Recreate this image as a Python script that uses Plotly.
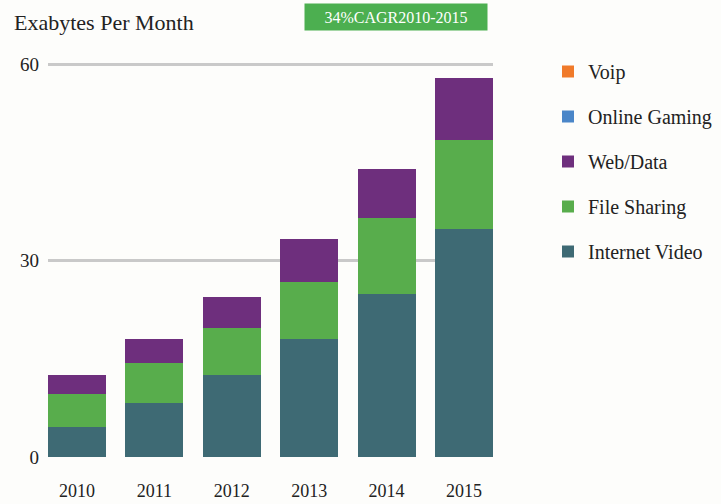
import plotly.graph_objects as go

years = ["2010", "2011", "2012", "2013", "2014", "2015"]
internet_video = [4.6, 8.3, 12.5, 18.1, 25.0, 34.9]
file_sharing = [5.1, 6.0, 7.3, 8.7, 11.6, 13.6]
web_data = [2.8, 3.7, 4.7, 6.5, 7.4, 9.5]
online_gaming = [0, 0, 0, 0, 0, 0]
voip = [0, 0, 0, 0, 0, 0]
share_2015 = ["61%", "24%", "15%"]
y_ticks = [0, 30, 60]

FONT = "Liberation Serif"
TXT = "#222222"

series = [
    ("Internet Video", internet_video, "#3e6a74"),
    ("File Sharing", file_sharing, "#58ad4c"),
    ("Web/Data", web_data, "#6e2f7d"),
    ("Online Gaming", online_gaming, "#4a86c8"),
    ("Voip", voip, "#f07a2a"),
]

fig = go.Figure()
n = len(series)
for i, (name, vals, col) in enumerate(series):
    fig.add_trace(go.Bar(
        x=years, y=vals, name=name, marker=dict(color=col, line=dict(width=0)),
        legendgroup=name, legendrank=n - i, hoverinfo="skip",
    ))

# percent labels at the midpoint of each 2015 segment
base = 0
shifts = [-12, 0, 0]
for i, (name, vals, col) in enumerate(series[:3]):
    mid = base + vals[-1] / 2
    base += vals[-1]
    fig.add_annotation(x=years[-1], y=mid, text=share_2015[i], showarrow=False,
                       xanchor="left", xshift=38, yshift=shifts[i],
                       font=dict(family=FONT, size=16, color=TXT))

# plot area: x 48..493, y 62..457
fig.add_annotation(xref="paper", yref="paper", x=(396 - 48) / 445, y=(457 - 17) / 395,
                   xanchor="center", yanchor="middle",
                   text="34%CAGR2010-2015", showarrow=False,
                   bgcolor="#4caf50", width=180, height=24,
                   font=dict(family=FONT, size=16, color="white"))

fig.update_layout(
    width=721, height=504,
    barmode="stack", bargap=0.25,
    paper_bgcolor="#fdfdfb", plot_bgcolor="#fdfdfb",
    margin=dict(l=48, r=228, t=62, b=47, autoexpand=False),
    font=dict(family=FONT, color=TXT),
    title=dict(text="Exabytes Per Month", x=14 / 721, xanchor="left",
               xref="container", yref="container", y=1 - 22 / 504, yanchor="middle",
               font=dict(family=FONT, size=22, color=TXT)),
    showlegend=True,
    legend=dict(traceorder="grouped", tracegroupgap=16,
                xref="container", yref="container",
                x=548 / 721, xanchor="left", y=1 - 52 / 504, yanchor="top",
                font=dict(family=FONT, size=20, color=TXT),
                bgcolor="rgba(0,0,0,0)"),
    xaxis=dict(range=[-0.375, 5.375], showgrid=False, showline=False, ticks="",
               automargin=False,
               ticklabelstandoff=21, tickfont=dict(family=FONT, size=18, color=TXT)),
    yaxis=dict(range=[0, 60.4], tickvals=y_ticks, showgrid=True, gridcolor="#c9c9c9",
               gridwidth=3, zeroline=False, showline=False, ticks="", automargin=False,
               ticklabelstandoff=8, tickfont=dict(family=FONT, size=19, color=TXT)),
)

fig.write_html("out.html", config={"displayModeBar": False},
               post_script="document.body.style.margin='0';document.body.style.background='#fdfdfb';")
